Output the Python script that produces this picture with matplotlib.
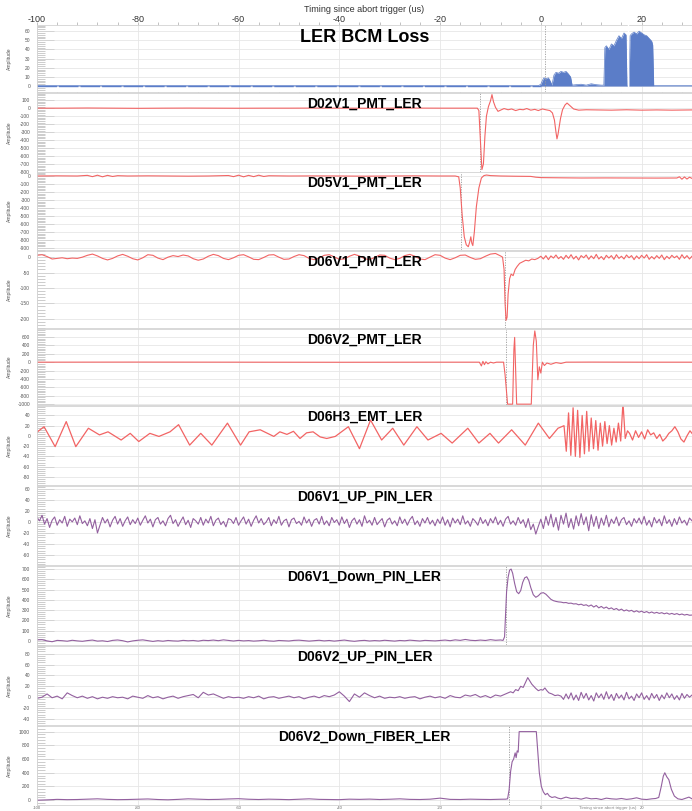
import numpy as np
import matplotlib
matplotlib.use("Agg")
import matplotlib.pyplot as plt
from matplotlib.ticker import MultipleLocator, AutoMinorLocator

plt.rcParams["font.family"] = ["Liberation Sans", "DejaVu Sans"]
plt.rcParams["axes.unicode_minus"] = False

OUTPUT_FILE = "out.png"
FIG_W, FIG_H = 692, 811

X_LABEL = "Timing since abort trigger (us)"
X_MIN, X_MAX = -100, 30

BLUE = "#5b7dc8"
RED = "#f26464"
PURPLE = "#93609f"

# ---------------- LER BCM Loss ----------------
bcm_time = [-100, -0.5, 0.0, 0.3, 0.6, 1.0, 1.5, 1.9, 2.2, 2.6, 3.0, 3.5, 4.0, 4.5, 5.0,
            5.5, 5.9, 6.2, 7, 8, 9, 10, 11, 12, 12.5, 12.7, 13.0, 13.5, 14.0, 14.5, 15.0,
            15.5, 16.0, 16.5, 16.9, 17.1, 17.5, 17.7, 18.0, 18.5, 19.0, 19.5, 20.0, 20.5,
            21.0, 21.5, 22.0, 22.2, 22.4, 30]
bcm_loss = [0.4, 0.4, 2, 6, 9, 8, 9, 5, 1, 12, 15, 14, 16, 15, 16,
            13, 10, 1, 1.5, 2, 1, 2.5, 1.5, 1, 1, 42, 44, 40, 46, 44, 50,
            55, 52, 58, 56, 0, 0, 55, 57, 59, 57, 60, 58, 56,
            55, 52, 49, 45, 0.5, 0.5]

# ---------------- D02V1_PMT_LER ----------------
d02v1_time = [-100, -95, -90, -85, -80, -75, -70, -65, -60, -55, -50, -45, -40, -35, -30,
              -25, -20, -15, -12.6, -12.3, -12.0, -11.7, -11.4, -11.1, -10.8, -10.4, -10.0,
              -9.7, -9.4, -9.0, -8.5, -8.0, -7.3, -6.5, -5.8, -5.0, -4.2, -3.5, -2.8, -2.0,
              -1.2, -0.5, 0.3, 1.0, 1.8, 2.3, 2.7, 3.0, 3.2, 3.4, 3.6, 3.9, 4.3, 4.8, 5.2,
              5.8, 6.5, 7.5, 9, 11, 14, 17, 20, 23, 26, 30]
d02v1_amp = [0, 0, 2, 0, -2, 0, 1, 0, -1, 0, 0, 1, 0, -1, 0,
             1, 0, 0, 0, -30, -400, -770, -700, -350, -100, 20, 90,
             170, 80, 10, -40, -25, -5, -20, -10, -30, -15, -20, -5, -25,
             -15, -30, -10, -20, -30, -60, -150, -300, -385, -330, -250, -130, -20, 40, 64,
             30, -10, -25, -20, -22, -25, -20, -25, -22, -25, -22]

# ---------------- D05V1_PMT_LER ----------------
d05v1_time = [-100, -96, -92, -90, -89, -88, -87, -86, -85, -84, -82, -78, -74, -70, -66,
              -62, -61, -60, -59, -58, -57, -56, -55, -54, -50, -45, -40, -35, -30, -25,
              -20, -17, -16.3, -16.0, -15.6, -15.2, -14.8, -14.4, -14.1, -13.9, -13.7,
              -13.5, -13.2, -12.8, -12.3, -11.8, -11.3, -10.8, -10.0, -8, -5, -2, -1, 0,
              3, 8, 13, 18, 23, 27, 27.5, 28, 28.5, 29, 29.5, 30]
d05v1_amp = [0, 2, 0, 8, -8, 10, -10, 8, -6, 4, 0, 2, 0, -2, 0,
             6, -8, 10, -10, 8, -8, 10, -6, 3, 0, 1, 0, -2, 0, 2,
             0, 0, -10, -150, -500, -760, -860, -884, -820, -760, -840,
             -870, -700, -384, -150, -25, 5, 12, 5, 0, -3, -5, -15, -20,
             -22, -25, -24, -25, -26, -25, -10, -40, -12, -38, -15, -30]

# ---------------- D06V1_PMT_LER ----------------
d06v1_pre = [6, 8, 2, -6, -4, -2, -5, -3, -4, 0,
             6, 10, 4, -4, -9, -4, 4, 9, 3, -5,
             -9, -2, 8, 6, -3, -8, 0, 5, 2, 7,
             4, -5, -10, -6, 3, 9, 5, -4, -8, -2,
             6, 8, 1, -7, -8, -1, 7, 8, 0, -7,
             -6, 2, 8, 5, -4, -8, -3, 6, 8, 1,
             -7, -6, 3, 9, 4, -5, -8, -1, 7, 6,
             -3, -8, -4, 5, 9, 3, -6, -8, 0, 8,
             6, -3, -8, -2, 6, 7, -1, -7, -5, 3,
             10, 12, 4]
d06v1_dip_time = [-7.6, -7.3, -7.1, -6.9, -6.7, -6.5, -6.2, -5.9, -5.5, -5.1, -4.7,
                  -4.2, -3.6, -3.0, -2.4, -1.8, -1.2, -0.6]
d06v1_dip_amp = [0, -40, -150, -205, -195, -120, -70, -55, -60, -40, -30,
                 -20, -15, -10, -12, -6, -8, -4]
d06v1_post = [3, -6, 5, -8, 4, -3, 7, -5, 2, -7,
              6, -4, 8, -6, 3, -9, 5, -2, 7, -7,
              4, -5, 9, -6, 2, -8, 6, -3, 5, -7,
              8, -4, 3, -6, 7, -2, 5, -8, 4, -5,
              6, -3, 8, -7, 2, -6, 5, -4, 7, -8,
              3, -5, 6, -2, 4, -7, 8, -4, 5, -6,
              3]

# ---------------- D06V2_PMT_LER ----------------
d06v2_time = [-100, -80, -60, -40, -20, -12.2, -11.8, -11.5, -11.2, -10.9, -10.5, -10.0,
              -9.4, -8.8, -7.4, -7.1, -6.6, -5.6, -5.35, -5.2, -5.0, -4.8, -1.9, -1.5,
              -1.2, -0.9, -0.6, -0.3, 0.0, 0.3, 0.7, 1.2, 2.0, 3.0, 4.0, 5.0, 10, 20, 30]
d06v2_amp = [0, 2, 0, -2, 0, 0, -90, 20, -60, 10, -40, 0,
             -20, 0, 0, -300, -1000, -1000, 300, 590, -200, -1000, -1000, 400,
             744, 500, -420, -110, -260, 0, -80, -20, -50, -10, -30, 0, 2, 0, 0]

# ---------------- D06H3_EMT_LER ----------------
d06h3_time = [-100.3, -98.6, -96.4, -94.2, -92.3, -89.8, -87.6, -85.9, -83.3, -81.5,
              -79.8, -77.6, -75.8, -73.6, -71.9, -69.7, -67.5, -65.3, -62.2, -59.6,
              -57.9, -55.7, -53.0, -51.8, -50.4, -49.1, -47.8, -46.5, -45.2, -43.8,
              -42.5, -40.8, -38.2, -36.0, -33.8, -31.6, -29.4, -27.2, -24.6, -22.4,
              -19.8, -17.6, -14.5, -12.3, -10.1, -8.4, -5.8, -3.1, -0.5, 1.7, 3.4,
              4.6, 5.05, 5.5, 5.95, 6.4, 6.85, 7.3, 7.75, 8.2, 8.65, 9.1, 9.55, 10.0,
              10.45, 10.9, 11.35, 11.8, 12.25, 12.7, 13.15, 13.6, 14.05, 14.5, 14.95,
              15.4, 15.85, 16.3, 16.75, 17.2, 17.6, 18.2, 18.8, 19.4, 20.0, 20.6, 21.2,
              21.8, 22.4, 23.0, 23.6, 24.2, 24.8, 25.4, 26.0, 26.6, 27.2, 27.8, 28.4,
              29.0, 29.6, 30.0]
d06h3_amp = [5, 18, -21, 28, -21, 15, 2, 8, -8, 5,
             -11, 5, -1, 8, 22, -18, 5, -18, 25, -18,
             8, 12, -1, 8, 3, 9, -5, 6, 8, -2,
             -5, -1, 18, -25, 31, -8, 15, -18, 18, -8,
             5, -14, 15, -14, 5, -14, 12, -18, 25, -5, 15,
             20, -30, 45, -38, 55, -40, 50, -42, 40, -35, 48, -30, 35,
             -25, 30, -28, 25, -20, 28, -15, 20, -18, 15, -12,
             25, -10, 65, -5, 10, 5, -8, 10, -3, 8, -6, 12,
             2, 6, -5, 3, -10, -4, 5, 10, 18, 8, -6, -12,
             0, 10, 5]

# ---------------- D06V1_UP_PIN_LER ----------------
d06v1_up = [8, 2, 12, -4, 6, -10, 3, 9, -6, 4, -2, 10, -8, 5, 0, 7, -5, 11, -3, 2,
            -7, 6, -12, 4, -20, -6, 8, -2, 5, -9, 3, 10, -4, 6, -8, 2, 9, -5, 4, -3,
            7, -6, 3, 11, -2, 5, -9, 4, 8, -4, 2, -7, 6, 12, -3, 4, -8, 1, 9, -5,
            3, -10, 6, 2, -4, 8, -6, 5, -2, 10, -7, 3, 7, -5, 1, -9, 6, 4, -3, 8,
            -6, 2, 9, -4, 5, -8, 3, 11, -2, 6, -5, 0, 8, -7, 4, -3, 10, -6, 2, 5,
            -9, 4, 7, -3, 1, -6, 9, -2, 5, -8, 3, 6, -4, 10, -5, 2, -7, 8, -1, 4,
            -6, 9, -3, 5, -10, 2, 7, -4, 4, -8, 11, -2, 3, -6, 8, -5, 1, 6, -9, 3,
            7, -4, 2, -7, 9, -3, 5, -6, 4, 10, -5, 2, -8, 6, -2, 8, -4, 3, -7, 5,
            -3, 9, -6, 4, -9, 7, -2, 5, -5, 11, -4, 2, -8, 6, 1, -6, 8, -3, 4, -7,
            6, -2, 9, -5, 3, -8, 5, 10, -4, 2, -6, 8, -3, 4, -10, 6, -14, -4, -22, -8,
            5, -12, 10, -6, 14, -9, 8, -15, 12, -4, 16, -10, 6, -13, 11, -7, 15, -5, 9, -16,
            13, -8, 10, -12, 7, -6, 12, -9, 5, -3, 9, -7, 4, 8, -5, 2, -8, 6, -2, 7,
            -4, 10, -6, 3, -9, 8, -2, 5, -7, 11, -3, 4, -8, 6, -5, 9, -2, 3, -6, 7,
            2]

# ---------------- D06V1_Down_PIN_LER ----------------
d06v1_down_pre = [10, 12, 0, -8, 5, 2, -3, 6, 0, -4,
                  3, 8, -2, 1, -6, 5, 9, 2, -10, 0,
                  6, 10, 3, -5, 2, -3, 4, 0, -2, 5,
                  1, 4, -2, 6, 3, 8, 2, 10, 4, -1,
                  5, 0, 3, -2, 1, 6, 0, -3, 4, 2,
                  -1, 5, 7, 3, -2, 2, 6, 0, 4, -2,
                  3, 8, 1, -4, 2, 5, -1, 3, 0, 6,
                  2, -2, 4, 1, 7, 3, -1, 5, 2, 0,
                  4, 8, 2, 10, 5, 14, 6, 3, 8, 4,
                  12, 6, 9]
d06v1_down_rise_time = [-7.5, -7.2, -7.0, -6.8, -6.5, -6.2, -5.9, -5.6, -5.2, -4.8, -4.4,
                        -4.0, -3.6, -3.2, -2.8, -2.4, -2.0, -1.5, -1.0, -0.5, 0.0, 0.5,
                        1.0, 1.5, 2.0, 2.5, 3.0, 3.5]
d06v1_down_rise_amp = [5, 40, 250, 480, 620, 690, 700, 660, 560, 480, 460,
                       490, 570, 615, 625, 590, 520, 450, 425, 440, 465, 470,
                       455, 430, 405, 392, 385, 380]
d06v1_down_tail = [378, 372, 374, 366, 368, 360, 362, 352, 358, 346,
                   352, 338, 350, 330, 345, 322, 336, 318, 330, 312,
                   322, 305, 316, 298, 310, 292, 302, 290, 298, 282,
                   294, 280, 290, 276, 286, 272, 282, 270, 278, 268,
                   275, 264, 272, 260, 268, 258, 266, 255, 262, 252,
                   258, 250, 252]

# ---------------- D06V2_UP_PIN_LER ----------------
d06v2_up_pre = [-2, 0, 6, -1, 2, -3, 8, 3, -1, 2,
                -2, 1, -3, 0, -2, 1, -1, 0, -3, 2,
                0, -2, 3, -1, 1, -3, 0, 2, -2, 1,
                3, 5, -1, 9, 4, 6, 2, -2, 1, -1,
                0, -2, 1, -1, 2, -3, 0, 1, -2, 0,
                2, -1, 1, -3, 0, 2, -1, 3, 1, 4,
                10, 2, -8, 6, 0, 8, 3, -1, 2, -2,
                0, -1, 1, -2, 0, 1, -3, 0, 2, -1,
                1, -2, 3, 0, -1, 4, 2, 5, 0, 3,
                -1, 4, 2, 6, 10]
d06v2_up_bump_time = [-5.5, -5.0, -4.5, -4.0, -3.5, -3.0, -2.6, -2.2, -1.8, -1.4, -1.0,
                      -0.5, 0.0, 0.4, 0.8, 1.2, 1.6, 2.2, 2.8, 3.4]
d06v2_up_bump_amp = [8, 14, 12, 20, 18, 28, 36, 30, 24, 20, 16,
                     12, 14, 13, 17, 12, 8, 6, 3, 4]
d06v2_up_tail = [2, -4, 6, -3, 8, -5, 4, -6, 9, -2, 7, -5, 3, -7, 8, -1, 6, -4, 10, -3,
                 5, -6, 7, -2, 4, -5, 9, -3, 2, -6, 6, -1, 8, -4, 3, -5, 7, -2, 5, -6,
                 4, -3, 8, -1, 6, -4, 3, -5, 7, -2, 5, 0, 4]

# ---------------- D06V2_Down_FIBER_LER ----------------
d06v2_fiber_pre = [0, 5, 12, 8, 10, 15, 20, 12, 8, 10,
                   14, 18, 10, 6, 12, 20, 15, 10, 12, 18,
                   22, 14, 10, 15, 12, 8, 14, 20, 12, 10,
                   8, 15, 12, 16, 10, 14, 20, 12, 10, 15,
                   30, 12, 10, 15, 12, 10, 14]
d06v2_fiber_time = [-7.0, -6.6, -6.3, -6.0, -5.7, -5.4, -5.1, -4.9, -4.7, -4.5, -4.3,
                    -0.9, -0.6, -0.3, 0.1, 0.5, 0.9, 1.3, 1.7, 2.2, 2.8, 3.4,
                    4, 5, 6, 7, 8, 9, 10, 11, 12, 13, 14, 15, 16, 17, 18, 19, 20, 21, 22,
                    22.8, 23.4, 23.9, 24.3, 24.6, 25.0, 25.4, 25.9, 26.5, 27.2, 28.0,
                    28.8, 29.4, 30.0]
d06v2_fiber_amp = [15, 20, 150, 420, 560, 600, 690, 620, 720, 700, 1000,
                   1000, 700, 400, 200, 120, 80, 100, 60, 40, 50, 30,
                   20, 45, 25, 30, 15, 35, 20, 25, 10, 30, 20, 15, 25, 12, 20, 35, 15, 10, 20,
                   25, 40, 200, 350, 400, 340, 300, 160, 60, 20, 10,
                   30, 45, 20]


def pixel_axes(fig, top_px, bottom_px):
    left = 37 / FIG_W
    return fig.add_axes([left, 1 - bottom_px / FIG_H, 1 - left,
                         (bottom_px - top_px) / FIG_H])


def style_panel(ax, ylim, ystep, title, title_size=10, title_off=11):
    ax.set_xlim(X_MIN, X_MAX)
    ax.set_ylim(*ylim)
    ax.xaxis.set_major_locator(MultipleLocator(20))
    ax.yaxis.set_major_locator(MultipleLocator(ystep))
    ax.yaxis.set_minor_locator(AutoMinorLocator(5))
    ax.grid(True, which="major", color="#e6e6e6", lw=0.6)
    ax.set_axisbelow(True)
    for spine in ax.spines.values():
        spine.set_color("#d2d2d2")
        spine.set_linewidth(0.6)
    ax.tick_params(axis="y", which="major", direction="in", length=12, width=0.6,
                   color="#cfcfcf", labelsize=3.5, labelcolor="#555555", pad=5)
    ax.tick_params(axis="y", which="minor", direction="in", length=6, width=0.6,
                   color="#c4c4c4")
    ax.tick_params(axis="x", which="both", length=0, labelbottom=False)
    ax.set_ylabel("Amplitude", fontsize=3.6, color="#555555")
    ax.yaxis.set_label_coords((12 - 37) / (FIG_W - 37), 0.5)
    h_px = ax.get_position().height * FIG_H
    ax.text(0.5, 1 - title_off / h_px, title, transform=ax.transAxes,
            ha="center", va="center", fontsize=title_size, fontweight="bold", zorder=5)


def trigger_line(ax, x):
    ax.axvline(x, color="#9a9a9a", lw=0.6, ls=(0, (1.5, 1.5)), zorder=1)


def main():
    fig = plt.figure(figsize=(FIG_W / 100, FIG_H / 100), dpi=100)

    # LER BCM Loss
    ax = pixel_axes(fig, 25, 92)
    style_panel(ax, (-6.5, 66.7), 10, "LER BCM Loss", title_size=13, title_off=12)
    ax.fill_between(bcm_time, 0, bcm_loss, color=BLUE, lw=0)
    ax.plot(bcm_time, bcm_loss, color=BLUE, lw=0.5)
    ax.plot([X_MIN, 0], [0.4, 0.4], color=BLUE, lw=1.0, ls=(0, (14, 1.5)))
    ax.axvline(17.3, color="white", lw=1.0, zorder=3)
    trigger_line(ax, 0.8)
    ax.xaxis.set_minor_locator(AutoMinorLocator(5))
    ax.tick_params(axis="x", which="major", top=True, labeltop=True, length=2,
                   width=0.5, color="#aaaaaa", labelsize=6.5, labelcolor="#333333", pad=-1.5)
    ax.tick_params(axis="x", which="minor", top=True, length=2, width=0.5, color="#aaaaaa")
    ax.set_xlabel(X_LABEL, fontsize=6.5, color="#333333", labelpad=2.5)
    ax.xaxis.set_label_position("top")

    # D02V1_PMT_LER
    ax = pixel_axes(fig, 93, 172)
    style_panel(ax, (-800, 190), 100, "D02V1_PMT_LER")
    ax.plot(d02v1_time, d02v1_amp, color=RED, lw=0.8)
    trigger_line(ax, -12.1)

    # D05V1_PMT_LER
    ax = pixel_axes(fig, 172, 250)
    style_panel(ax, (-925, 50), 100, "D05V1_PMT_LER")
    ax.plot(d05v1_time, d05v1_amp, color=RED, lw=0.8)
    trigger_line(ax, -15.8)

    # D06V1_PMT_LER
    ax = pixel_axes(fig, 251, 328)
    style_panel(ax, (-230, 20), 50, "D06V1_PMT_LER")
    t_pre = np.linspace(-100, -8, len(d06v1_pre))
    t_post = np.linspace(0, 30, len(d06v1_post))
    ax.plot(np.concatenate([t_pre, d06v1_dip_time, t_post]),
            np.concatenate([d06v1_pre, d06v1_dip_amp, d06v1_post]), color=RED, lw=0.8)
    trigger_line(ax, -7.1)

    # D06V2_PMT_LER
    ax = pixel_axes(fig, 329, 405)
    style_panel(ax, (-1020, 790), 200, "D06V2_PMT_LER")
    ax.plot(d06v2_time, d06v2_amp, color=RED, lw=0.8)
    trigger_line(ax, -7.0)

    # D06H3_EMT_LER
    ax = pixel_axes(fig, 406, 485)
    style_panel(ax, (-96, 58.5), 20, "D06H3_EMT_LER")
    ax.plot(d06h3_time, d06h3_amp, color=RED, lw=0.9)

    # D06V1_UP_PIN_LER
    ax = pixel_axes(fig, 486, 565)
    style_panel(ax, (-78, 65), 20, "D06V1_UP_PIN_LER")
    ax.plot(np.linspace(-100, 30, len(d06v1_up)), d06v1_up, color=PURPLE, lw=0.8)

    # D06V1_Down_PIN_LER
    ax = pixel_axes(fig, 566, 645)
    style_panel(ax, (-40, 730), 100, "D06V1_Down_PIN_LER")
    ax.plot(np.concatenate([np.linspace(-100, -8, len(d06v1_down_pre)),
                            d06v1_down_rise_time,
                            np.linspace(4, 30, len(d06v1_down_tail))]),
            np.concatenate([d06v1_down_pre, d06v1_down_rise_amp, d06v1_down_tail]),
            color=PURPLE, lw=0.8)
    trigger_line(ax, -7.0)

    # D06V2_UP_PIN_LER
    ax = pixel_axes(fig, 646, 725)
    style_panel(ax, (-51, 94), 20, "D06V2_UP_PIN_LER")
    ax.plot(np.concatenate([np.linspace(-100, -6, len(d06v2_up_pre)),
                            d06v2_up_bump_time,
                            np.linspace(4, 30, len(d06v2_up_tail))]),
            np.concatenate([d06v2_up_pre, d06v2_up_bump_amp, d06v2_up_tail]),
            color=PURPLE, lw=0.8)

    # D06V2_Down_FIBER_LER
    ax = pixel_axes(fig, 726, 805)
    style_panel(ax, (-70, 1082), 200, "D06V2_Down_FIBER_LER")
    ax.plot(np.concatenate([np.linspace(-100, -8, len(d06v2_fiber_pre)), d06v2_fiber_time]),
            np.concatenate([d06v2_fiber_pre, d06v2_fiber_amp]), color=PURPLE, lw=0.8)
    trigger_line(ax, -6.3)
    ax.tick_params(axis="x", which="major", labelbottom=True, labelsize=3,
                   labelcolor="#666666", pad=1)

    fig.text(636 / FIG_W, 1 - 808 / FIG_H, X_LABEL, fontsize=3.2, color="#888888",
             ha="right", va="center")

    fig.savefig(OUTPUT_FILE, dpi=100)
    plt.close(fig)


if __name__ == "__main__":
    main()
